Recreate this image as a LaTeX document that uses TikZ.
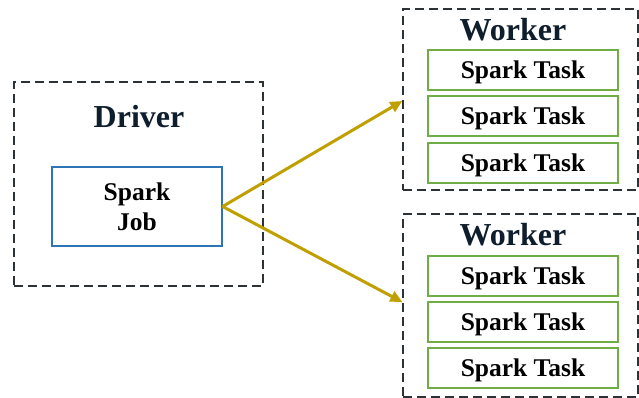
\documentclass[tikz,border=0pt]{standalone}
\usepackage{fontspec}
\setmainfont{Liberation Serif}
\usepackage{tikz}
\usetikzlibrary{arrows.meta}

\definecolor{boxgray}{RGB}{45,50,55}
\definecolor{titlenavy}{RGB}{15,30,45}
\definecolor{jobblue}{RGB}{46,117,182}
\definecolor{taskgreen}{RGB}{112,173,71}
\definecolor{arrowgold}{RGB}{191,160,0}

\tikzset{
  outerbox/.style={draw=boxgray, line width=1.4pt, dash pattern=on 9pt off 5pt, inner sep=0pt},
  jobbox/.style={draw=jobblue, line width=1.2pt, inner sep=0pt, minimum width=170pt, minimum height=79pt, align=center, font=\fontsize{25.5}{30}\selectfont\bfseries},
  taskbox/.style={draw=taskgreen, line width=1.3pt, inner sep=0pt, minimum width=190pt, minimum height=40pt, text depth=0pt, font=\fontsize{25.5}{28}\selectfont\bfseries},
  title/.style={text=titlenavy, font=\fontsize{32}{36}\selectfont\bfseries},
  flow/.style={draw=arrowgold, line width=3pt, -{Triangle[length=12pt,width=11pt]}}
}

\begin{document}
\begin{tikzpicture}[x=1pt,y=-1pt]

\useasboundingbox (0,0) rectangle (639,398);

	% Driver side
	\node[outerbox, minimum width=249pt, minimum height=204pt] (driver) at (138.5,184) {};
	\node[title] (drivertitle) at (139,117) {Driver};
	\node[jobbox] (job) at (137,206.5) {Spark\\Job};

	% Worker 1
	\node[outerbox, minimum width=235pt, minimum height=181pt] (w1) at (520.5,99.5) {};
	\node[title] (w1title) at (513,30) {Worker};
	\foreach \y/\n in {70/1,116/2,163/3}
		\node[taskbox] (w1t\n) at (523,\y) {Spark Task};

	% Worker 2
	\node[outerbox, minimum width=235pt, minimum height=183pt] (w2) at (520.5,305.5) {};
	\node[title] (w2title) at (513,235) {Worker};
	\foreach \y/\n in {276/1,322/2,368/3}
		\node[taskbox] (w2t\n) at (523,\y) {Spark Task};

	% Arrows to the workers
	\coordinate (in1) at (w1.west |- 0,101);
	\coordinate (in2) at (w2.west |- 0,302);
	\draw[flow] (job.east) -- (in1);
	\draw[flow] (job.east) -- (in2);

\end{tikzpicture}
\end{document}
